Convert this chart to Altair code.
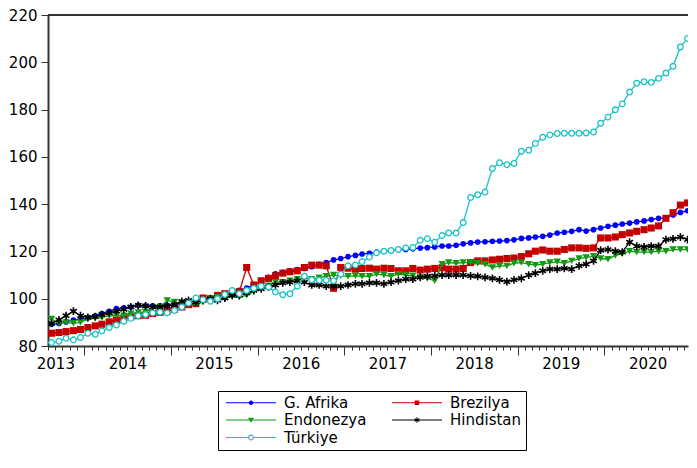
import math
import altair as alt
import pandas as pd

# ---------------- data (monthly, 2013M08 .. 2020M12) ----------------
SERIES = ["G. Afrika", "Brezilya", "Endonezya", "Hindistan", "Türkiye"]
COLORS = ["#0000FF", "#C40000", "#129A12", "#000000", "#17C2C6"]
FIRST_MONTH = "2013-08-01"
N_MONTHS = 89

G_AFRIKA = [89.2, 89.5, 90.2, 91.0, 91.3, 92.0, 92.8, 93.7, 94.7, 95.8, 96.1, 96.5, 97.2,
            97.0, 97.0, 97.0, 97.2, 97.5, 98.0, 98.6, 99.3, 99.6, 100.0, 100.7, 101.4,
            102.5, 103.5, 104.5, 106.0, 107.5, 109.0, 110.5, 111.2, 111.8, 112.3, 112.8,
            113.5, 114.5, 115.3, 116.4, 117.0, 117.8, 118.3, 118.9, 119.2, 119.7, 120.1,
            120.4, 120.8, 120.8, 121.1, 121.4, 121.6, 121.9, 122.3, 122.3,
            122.6, 123.2, 123.6, 124.0, 124.1, 124.3, 124.4, 124.6, 124.9, 125.5, 125.7,
            126.1, 126.4, 126.9, 127.8, 128.1, 128.5, 129.2, 128.6, 129.2, 129.9, 130.6,
            131.1, 131.6, 132.0, 132.5, 132.9, 133.5, 134.0, 134.2, 135.4, 136.5, 137.2]
BREZILYA = [85.4, 85.7, 86.1, 86.5, 87.0, 87.8, 88.5, 89.2, 90.2, 91.0, 91.7, 92.4, 92.8,
            93.0, 93.7, 94.2, 94.7, 95.6, 96.5, 97.5, 97.9, 100.3, 100.0, 101.4, 102.1, 102.5,
            103.0, 113.2, 105.8, 107.6, 108.6, 109.7, 110.8, 111.4, 111.8, 113.2, 114.2,
            114.2, 113.9, 104.4, 113.2, 112.9, 112.5, 112.8, 112.9, 112.5, 112.9, 112.8,
            111.8, 111.8, 112.8, 112.1, 112.5, 112.8, 113.1, 112.5,
            112.5, 112.8, 115.3, 116.0, 116.0, 116.4, 116.7, 117.0, 117.2, 117.8, 119.0,
            120.1, 120.6, 120.1, 120.1, 120.8, 121.5, 121.5, 121.3, 121.5, 125.7, 125.7,
            126.1, 127.1, 127.8, 128.5, 129.2, 129.9, 130.8, 134.0, 136.4, 139.6, 140.5]
ENDONEZYA = [91.4, 89.6, 90.0, 89.6, 90.0, 91.4, 91.7, 92.0, 92.8, 93.0, 92.8, 93.7, 94.2,
             94.4, 95.8, 96.5, 99.3, 98.6, 97.9, 97.9, 97.5, 98.6, 100.0, 100.7, 100.0,
             101.0, 100.7, 101.4, 103.0, 104.4, 105.5, 107.0, 107.0, 107.6, 108.3, 108.6,
             108.3, 108.9, 109.5, 110.0, 109.7, 109.5, 109.7, 109.5, 109.5, 110.4, 110.0,
             109.5, 110.4, 110.0, 109.7, 109.0, 108.6, 107.6, 114.6, 115.3,
             115.0, 115.3, 115.3, 115.0, 114.6, 113.2, 113.9, 113.9, 115.0, 115.3, 114.6,
             114.2, 114.6, 115.3, 115.6, 115.0, 116.0, 117.0, 117.5, 118.0, 117.0, 116.7,
             118.3, 119.0, 120.1, 119.7, 119.7, 119.7, 120.1, 120.1, 120.8, 120.8, 120.8]
HINDISTAN = [89.6, 91.0, 92.8, 94.7, 92.8, 92.1, 92.4, 93.3, 94.0, 94.7, 95.5, 96.5, 97.2,
             97.0, 96.5, 96.5, 97.0, 97.5, 98.9, 99.3, 98.6, 99.3, 100.0, 99.3, 100.3, 101.4,
             101.4, 102.5, 103.5, 104.2, 105.0, 105.8, 106.7, 107.0, 107.5, 107.0, 105.8,
             105.8, 105.3, 105.3, 105.3, 105.8, 106.3, 106.3, 106.7, 106.7, 106.3, 107.0,
             107.6, 108.3, 108.3, 109.0, 109.5, 109.7, 110.0, 110.0, 110.0, 110.0,
             109.7, 109.5, 109.0, 108.6, 108.0, 107.2, 108.0, 108.6, 110.0, 110.8, 111.8,
             112.5, 112.5, 112.8, 112.5, 113.9, 114.6, 116.0, 120.5, 120.8, 120.1, 119.7,
             123.9, 122.2, 121.9, 122.2, 122.2, 125.0, 125.3, 126.1, 125.0]
TURKIYE = [81.5, 82.0, 83.3, 82.6, 83.6, 85.4, 85.0, 86.4, 87.8, 88.9, 90.5, 91.7, 92.8,
           93.3, 94.0, 94.3, 94.0, 95.0, 96.5, 98.2, 100.3, 99.6, 98.9, 100.0, 101.8,
           103.5, 102.1, 103.5, 104.4, 105.3, 104.9, 102.8, 101.7, 102.1, 105.3, 109.5,
           108.0, 107.8, 107.8, 107.6, 110.4, 113.9, 114.3, 115.7, 117.6, 119.4, 120.1,
           120.4, 120.8, 121.5, 121.7, 124.7, 125.4, 123.9, 126.7, 127.8, 127.8, 132.2,
           142.8, 144.0, 145.1, 155.1, 157.5, 156.7, 157.2, 162.4, 162.8, 165.7, 168.3,
           169.3, 169.9, 170.0, 170.0, 170.0, 170.1, 170.5, 174.2, 176.8, 179.9, 182.4,
           187.4, 191.1, 191.8, 191.5, 193.2, 195.5, 198.3, 206.5, 210.1]

VALUES = [G_AFRIKA, BREZILYA, ENDONEZYA, HINDISTAN, TURKIYE]
Y_TICKS = [80, 100, 120, 140, 160, 180, 200, 220]

months = pd.date_range(FIRST_MONTH, periods=N_MONTHS, freq="MS")
dates = [m.strftime("%Y-%m-16T00:00:00Z") for m in months]
rows = []
for name, vals in zip(SERIES, VALUES):
    for d, v in zip(dates, vals):
        rows.append({"date": d, "series": name, "value": v})
df = pd.DataFrame(rows)

# ---------------- marker shapes ----------------
def f(v):
    return f"{v:.3f}"

def rect(x0, x1, h):
    return f"M{f(x0)} {f(-h)}L{f(x1)} {f(-h)}L{f(x1)} {f(h)}L{f(x0)} {f(h)}Z"

def circle(cx, r, cw=True):
    s = 1 if cw else 0
    return (f"M{f(cx + r)} 0A{f(r)} {f(r)} 0 1 {s} {f(cx - r)} 0"
            f"A{f(r)} {f(r)} 0 1 {s} {f(cx + r)} 0Z")

def arm(cx, ang, L, w):
    c, s = math.cos(ang), math.sin(ang)
    pts = [(-L, -w), (L, -w), (L, w), (-L, w)]
    p = [(cx + x * c - y * s, x * s + y * c) for x, y in pts]
    return "M" + "L".join(f"{f(a)} {f(b)}" for a, b in p) + "Z"

LX0, LX1, CX, H = -0.7, 9.3, 4.3, 0.12
LEGEND_PATHS = [
    rect(LX0, LX1, H) + circle(CX, 0.46),
    rect(LX0, LX1, H) + f"M{f(CX-0.46)} -0.46L{f(CX+0.46)} -0.46L{f(CX+0.46)} 0.46L{f(CX-0.46)} 0.46Z",
    rect(LX0, LX1, H) + f"M{f(CX-0.6)} -0.45L{f(CX+0.6)} -0.45L{f(CX)} 0.55Z",
    rect(LX0, LX1, H) + "".join(arm(CX, a, 0.55, 0.11) for a in (math.pi / 2, math.pi / 6, -math.pi / 6)),
    rect(LX0, CX - 0.55, H) + rect(CX + 0.55, LX1, H) + circle(CX, 0.58) + circle(CX, 0.36, cw=False),
]
ASTERISK = "M0 -1L0 1M-0.866 -0.5L0.866 0.5M-0.866 0.5L0.866 -0.5"
MARKERS = [
    dict(shape="circle", filled=True, size=32),
    dict(shape="square", filled=True, size=50),
    dict(shape="triangle-down", filled=True, size=55),
    dict(shape=ASTERISK, filled=False, size=60, strokeWidth=1.6),
    dict(shape="circle", filled=False, fill="white", size=32, strokeWidth=1.3),
]

# ---------------- scales / axes ----------------
FONT = "DejaVu Sans"
xscale = alt.Scale(type="utc", domain=[alt.DateTime(year=2013, month=8, date=1, utc=True),
                                       alt.DateTime(year=2020, month=12, date=18, utc=True)])
yscale = alt.Scale(domain=[80, 220], nice=False, zero=False)
xaxis = alt.Axis(
    title=None, grid=False,
    tickCount={"interval": "month", "step": 1},
    tickSize={"condition": {"test": "utcmonth(datum.value) === 0", "value": 9}, "value": 4},
    labelExpr="(utcmonth(datum.value) == 6 || (utcyear(datum.value) == 2013 && utcmonth(datum.value) == 8)) ? utcFormat(datum.value, '%Y') : ''",
    labelOverlap=False, labelFlush=False, labelPadding=6,
    labelFont=FONT, labelFontSize=15, labelColor="black",
    domainColor="#333333", domainWidth=2, tickColor="#333333", tickWidth=1,
)
yaxis = alt.Axis(
    title=None, grid=False, values=Y_TICKS, tickSize=7, labelPadding=4,
    labelFont=FONT, labelFontSize=15, labelColor="black",
    domainColor="#333333", domainWidth=2, tickColor="#333333", tickWidth=1,
)
color_scale = alt.Scale(domain=SERIES, range=COLORS)

x_enc = alt.X("date:T", scale=xscale, axis=xaxis)
y_enc = alt.Y("value:Q", scale=yscale, axis=yaxis)
c_enc = alt.Color("series:N", scale=color_scale, legend=None)

base = alt.Chart(df)

leg = alt.Legend(
    title=None, orient="none", legendX=170, legendY=376, columns=2, direction="horizontal",
    columnPadding=21, rowPadding=1.5, padding=4,
    strokeColor="black", fillColor="white", cornerRadius=0,
    symbolSize=100, symbolStrokeWidth=0, symbolOpacity=1, labelOffset=47,
    labelFont=FONT, labelFontSize=15, labelColor="black", labelLimit=0,
)
legend_layer = base.transform_filter("datum.value < 0").mark_point(
    filled=True, opacity=1, size=100
).encode(
    x=x_enc, y=y_enc,
    color=alt.Color("series:N", scale=color_scale, legend=leg),
    shape=alt.Shape("series:N", scale=alt.Scale(domain=SERIES, range=LEGEND_PATHS), legend=leg),
)

layers = [legend_layer]
for name, spec in zip(SERIES, MARKERS):
    sub = base.transform_filter(alt.datum.series == name)
    layers.append(sub.mark_line(strokeWidth=1.3, clip=True).encode(x=x_enc, y=y_enc, color=c_enc))
    layers.append(sub.mark_point(opacity=1, clip=True, **spec).encode(x=x_enc, y=y_enc, color=c_enc))

top_line = alt.Chart(df).mark_rule(color="#333333", strokeWidth=2).encode(y=alt.datum(220))

chart = alt.layer(*layers, top_line).properties(
    width=640, height=331, background="white", padding=0
).configure_view(stroke=None)

chart.save("out.html", embed_options={"renderer": "svg", "actions": False})
